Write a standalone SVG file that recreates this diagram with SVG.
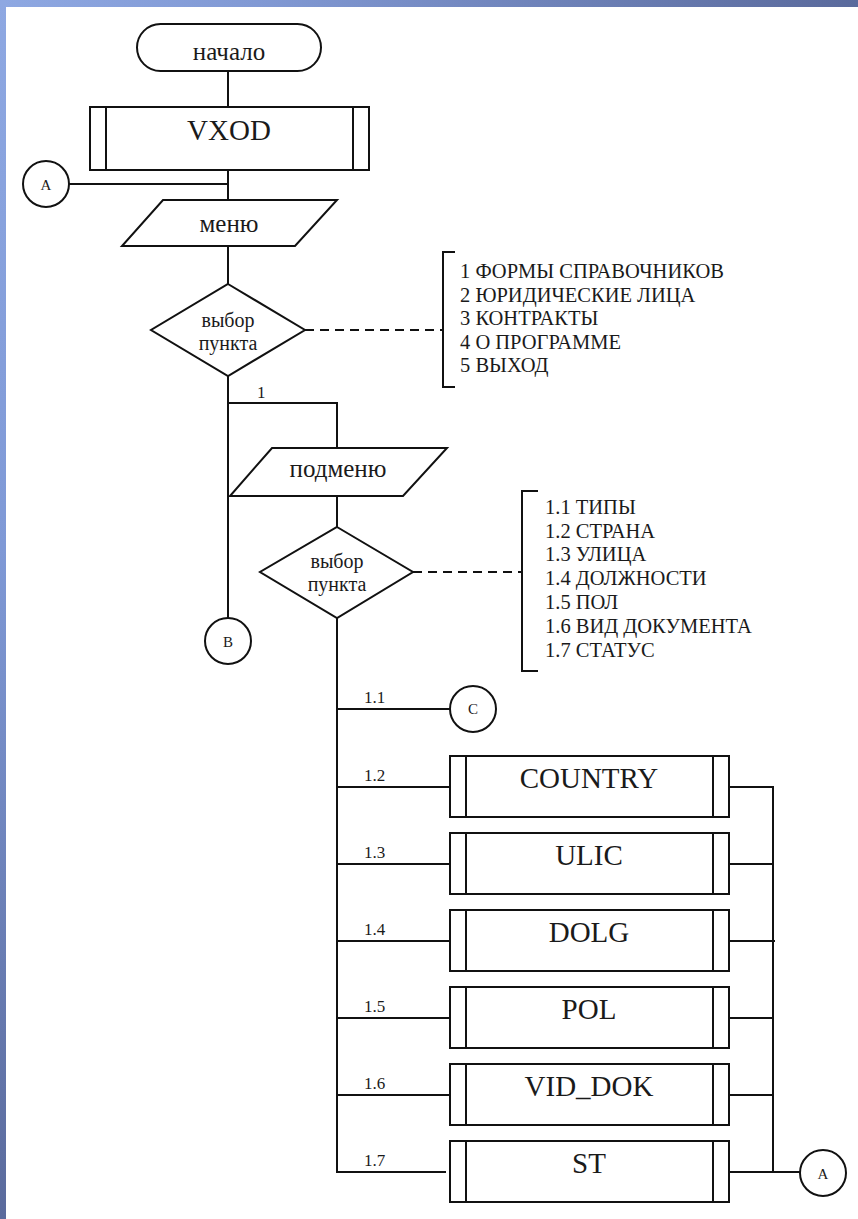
<svg xmlns="http://www.w3.org/2000/svg" width="858" height="1219" viewBox="0 0 858 1219">
<defs>
<linearGradient id="gTop" x1="0" y1="0" x2="1" y2="0">
<stop offset="0" stop-color="#8ea8e2"/>
<stop offset="0.3" stop-color="#8199d4"/>
<stop offset="1" stop-color="#5a6a9c"/>
</linearGradient>
<linearGradient id="gLeft" x1="0" y1="0" x2="0" y2="1">
<stop offset="0" stop-color="#8ea8e2"/>
<stop offset="0.45" stop-color="#7f99d6"/>
<stop offset="1" stop-color="#5a6a9c"/>
</linearGradient>
<style>
.s{fill:#fff;stroke:#111;stroke-width:2}
.l{fill:none;stroke:#111;stroke-width:2}
.d{fill:none;stroke:#111;stroke-width:2;stroke-dasharray:9 6}
.c{text-anchor:middle}
.big{font-size:29px}
.mid{font-size:25px}
.dia{font-size:20px}
.lst{font-size:20.5px}
.lab{font-size:17px}
.cir{font-size:15px}
</style>
</defs>
<rect x="0" y="0" width="858" height="1219" fill="#fff"/>
<rect x="0" y="0" width="858" height="7" fill="url(#gTop)"/>
<rect x="0" y="0" width="6" height="1219" fill="url(#gLeft)"/>
<g font-family="Liberation Serif, Times New Roman, serif" fill="#1a1a1a">
<g id="connectors">
<path class="l" d="M228,71 V107"/>
<path class="l" d="M228,170 V200"/>
<path class="l" d="M69,184 H228"/>
<path class="l" d="M228,246 V284"/>
<path class="l" d="M228,376 V618"/>
<path class="l" d="M228,403 H337 V448"/>
<path class="l" d="M337,496 V527"/>
<path class="l" d="M337,618 V1172 H446"/>
<path class="l" d="M337,709 H450"/>
<path class="l" d="M337,787 H450"/>
<path class="l" d="M337,864 H450"/>
<path class="l" d="M337,941 H450"/>
<path class="l" d="M337,1018 H450"/>
<path class="l" d="M337,1095 H450"/>
<path class="l" d="M729,787 H773 V1172 H800"/>
<path class="l" d="M729,864 H773"/>
<path class="l" d="M729,941 H775"/>
<path class="l" d="M729,1018 H773"/>
<path class="l" d="M729,1095 H773"/>
<path class="l" d="M729,1172 H773"/>
<path class="d" d="M305,330 H443"/>
<path class="d" d="M413,572 H522"/>
<text class="lab" x="257" y="398">1</text>
<text class="lab" x="364" y="703">1.1</text>
<text class="lab" x="364" y="781">1.2</text>
<text class="lab" x="364" y="858">1.3</text>
<text class="lab" x="364" y="935">1.4</text>
<text class="lab" x="364" y="1012">1.5</text>
<text class="lab" x="364" y="1089">1.6</text>
<text class="lab" x="364" y="1166">1.7</text>
</g>

<g id="start">
<rect class="s" x="137" y="24" width="184" height="47" rx="23.5"/>
<text class="c mid" x="229" y="60">начало</text>
</g>

<g id="vxod">
<rect class="s" x="90" y="107" width="279" height="63"/>
<path class="l" d="M106,107 V170 M353,107 V170"/>
<text class="c big" x="229" y="140">VXOD</text>
</g>

<g id="connA1">
<circle class="s" cx="46" cy="184" r="23"/>
<text class="c cir" x="46" y="190">A</text>
</g>

<g id="menu">
<polygon class="s" points="163,200 337,200 295,246 122,246"/>
<text class="c mid" x="229" y="232">меню</text>
</g>

<g id="choice1">
<polygon class="s" points="228,284 305,330 228,376 151,330"/>
<text class="c dia" x="228" y="327">выбор</text>
<text class="c dia" x="228" y="350">пункта</text>
</g>

<g id="list1">
<path class="l" d="M455,252 H443 V387 H455"/>
<text class="lst" x="460" y="278">1 ФОРМЫ СПРАВОЧНИКОВ</text>
<text class="lst" x="460" y="302">2 ЮРИДИЧЕСКИЕ ЛИЦА</text>
<text class="lst" x="460" y="325">3 КОНТРАКТЫ</text>
<text class="lst" x="460" y="349">4 О ПРОГРАММЕ</text>
<text class="lst" x="460" y="372">5 ВЫХОД</text>
</g>

<g id="connB">
<circle class="s" cx="228" cy="641" r="23"/>
<text class="c cir" x="228" y="647">B</text>
</g>

<g id="submenu">
<polygon class="s" points="272,448 447,448 403,496 230,496"/>
<text class="c mid" x="338" y="477">подменю</text>
</g>

<g id="choice2">
<polygon class="s" points="337,527 413,572 337,618 260,572"/>
<text class="c dia" x="337" y="568">выбор</text>
<text class="c dia" x="337" y="591">пункта</text>
</g>

<g id="list2">
<path class="l" d="M538,491 H522 V671 H538"/>
<text class="lst" x="545" y="514">1.1 ТИПЫ</text>
<text class="lst" x="545" y="538">1.2 СТРАНА</text>
<text class="lst" x="545" y="561">1.3 УЛИЦА</text>
<text class="lst" x="545" y="585">1.4 ДОЛЖНОСТИ</text>
<text class="lst" x="545" y="609">1.5 ПОЛ</text>
<text class="lst" x="545" y="633">1.6 ВИД ДОКУМЕНТА</text>
<text class="lst" x="545" y="657">1.7 СТАТУС</text>
</g>

<g id="connC">
<circle class="s" cx="473" cy="709" r="23"/>
<text class="c cir" x="473" y="714">C</text>
</g>

<g id="country">
<rect class="s" x="450" y="756" width="279" height="61"/>
<path class="l" d="M466,756 V817 M713,756 V817"/>
<text class="c big" x="589" y="788">COUNTRY</text>
</g>
<g id="ulic">
<rect class="s" x="450" y="833" width="279" height="61"/>
<path class="l" d="M466,833 V894 M713,833 V894"/>
<text class="c big" x="589" y="865">ULIC</text>
</g>
<g id="dolg">
<rect class="s" x="450" y="910" width="279" height="61"/>
<path class="l" d="M466,910 V971 M713,910 V971"/>
<text class="c big" x="589" y="942">DOLG</text>
</g>
<g id="pol">
<rect class="s" x="450" y="987" width="279" height="61"/>
<path class="l" d="M466,987 V1048 M713,987 V1048"/>
<text class="c big" x="589" y="1019">POL</text>
</g>
<g id="viddok">
<rect class="s" x="450" y="1064" width="279" height="61"/>
<path class="l" d="M466,1064 V1125 M713,1064 V1125"/>
<text class="c big" x="589" y="1096">VID_DOK</text>
</g>
<g id="st">
<rect class="s" x="450" y="1141" width="279" height="61"/>
<path class="l" d="M466,1141 V1202 M713,1141 V1202"/>
<text class="c big" x="589" y="1173">ST</text>
</g>

<g id="connA2">
<circle class="s" cx="823" cy="1173" r="23"/>
<text class="c cir" x="823" y="1179">A</text>
</g>
</g>
</svg>
